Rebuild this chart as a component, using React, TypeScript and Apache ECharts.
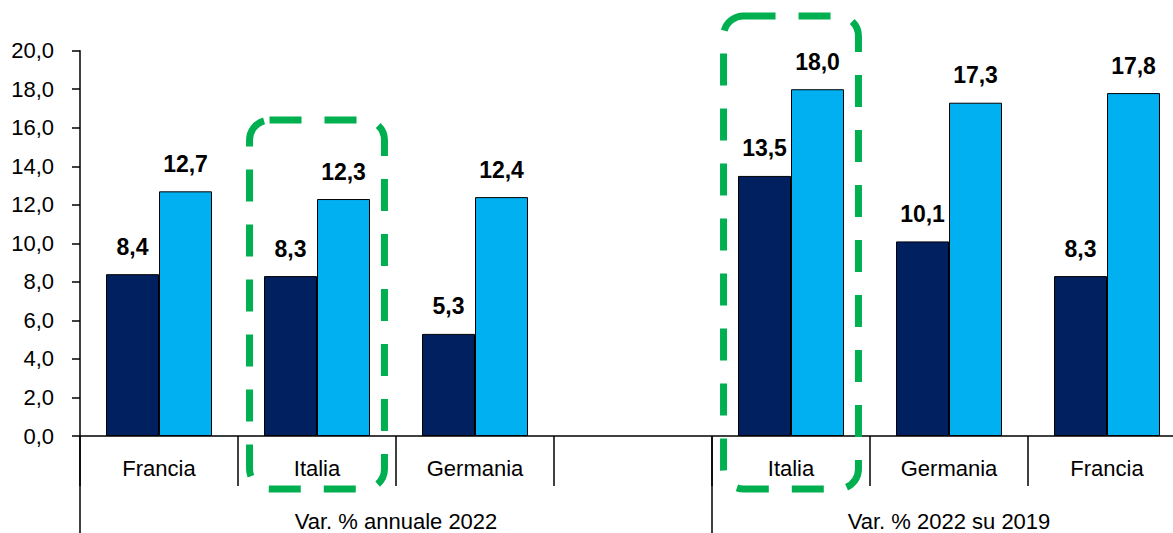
import React, { useEffect, useRef } from "react";
import * as echarts from "echarts";

// ---- data ----
const CATEGORIES = ["Francia", "Italia", "Germania", "", "Italia", "Germania", "Francia"];
const GROUP_LABELS = ["Var. % annuale 2022", "Var. % 2022 su 2019"];
const GROUP_SIZES = [4, 3]; // number of categories in each group
const DARK_VALUES = [8.4, 8.3, 5.3, null, 13.5, 10.1, 8.3];
const LIGHT_VALUES = [12.7, 12.3, 12.4, null, 18.0, 17.3, 17.8];
const Y_MIN = 0;
const Y_MAX = 20;
const Y_STEP = 2;
const HIGHLIGHT_INDEX = [1, 4];
const HIGHLIGHT_TOP = [16.4, 21.8];

const AXIS_FONT = "'Liberation Sans', Arial, sans-serif";
const LABEL_FONT = "'Liberation Sans', Arial, sans-serif";
const fmt = (v: number) => v.toFixed(1).replace(".", ",");

export default function App() {
  const ref = useRef<HTMLDivElement>(null);

  useEffect(() => {
    const chart = echarts.init(ref.current!, null, { renderer: "svg" });

    // second-level axis built on half-category slots
    const totalHalf = CATEGORIES.length * 2;
    const groupSlots: string[] = Array.from({ length: totalHalf + 1 }, () => "");
    const boundaries: number[] = [0];
    let acc = 0;
    GROUP_SIZES.forEach((n, gi) => {
      const start = acc * 2;
      acc += n;
      const end = acc * 2;
      groupSlots[(start + end) / 2] = GROUP_LABELS[gi];
      boundaries.push(end);
    });

    const labelStyle = {
      show: true,
      position: "top" as const,
      distance: 16,
      color: "#000",
      fontFamily: LABEL_FONT,
      fontWeight: "bold" as const,
      fontSize: 23,
      formatter: (p: any) => fmt(p.value),
    };

    chart.setOption({
      animation: false,
      backgroundColor: "#fff",
      grid: {
        left: 80,
        right: 0,
        top: 50.7,
        bottom: 97,
        containLabel: false,
        outerBoundsMode: "none",
      },
      xAxis: [
        {
          type: "category",
          data: CATEGORIES,
          position: "bottom",
          offset: 0,
          axisLine: { show: true, lineStyle: { color: "#000", width: 1.5 } },
          axisTick: { show: true, interval: 0, length: 50, lineStyle: { color: "#000", width: 1.5 } },
          axisLabel: {
            interval: 0,
            margin: 21,
            color: "#000",
            fontFamily: AXIS_FONT,
            fontSize: 22,
          },
        },
        {
          type: "category",
          data: groupSlots,
          boundaryGap: false,
          position: "bottom",
          offset: 0,
          axisLine: { show: false },
          axisTick: {
            show: true,
            interval: (i: number) => boundaries.includes(i),
            length: 110,
            lineStyle: { color: "#000", width: 1.5 },
          },
          axisLabel: {
            interval: (i: number, v: string) => v !== "",
            margin: 74,
            color: "#000",
            fontFamily: AXIS_FONT,
            fontSize: 22,
          },
        },
      ],
      yAxis: {
        type: "value",
        min: Y_MIN,
        max: Y_MAX,
        interval: Y_STEP,
        axisLine: { show: true, lineStyle: { color: "#000", width: 1.5 } },
        axisTick: { show: true, length: 8, lineStyle: { color: "#000", width: 1.5 } },
        splitLine: { show: false },
        axisLabel: {
          margin: 26,
          color: "#000",
          fontFamily: AXIS_FONT,
          fontSize: 22,
          formatter: (v: number) => fmt(v),
        },
      },
      series: [
        {
          type: "bar",
          data: DARK_VALUES,
          barWidth: 53,
          barGap: "0%",
          itemStyle: { color: "#002060", borderColor: "#000", borderWidth: 1 },
          label: labelStyle,
        },
        {
          type: "bar",
          data: LIGHT_VALUES,
          barWidth: 53,
          barGap: "0%",
          itemStyle: { color: "#00B0F0", borderColor: "#000", borderWidth: 1 },
          label: labelStyle,
        },
      ],
    });

    // highlight boxes placed through the axes
    const x0 = chart.convertToPixel({ xAxisIndex: 0 }, 0) as number;
    const x1 = chart.convertToPixel({ xAxisIndex: 0 }, 1) as number;
    const catW = x1 - x0;
    const yZero = chart.convertToPixel({ yAxisIndex: 0 }, 0) as number;
    const halfW = catW * 0.427;
    chart.setOption({
      graphic: HIGHLIGHT_INDEX.map((idx, k) => {
        const cx = chart.convertToPixel({ xAxisIndex: 0 }, idx) as number;
        const top = chart.convertToPixel({ yAxisIndex: 0 }, HIGHLIGHT_TOP[k]) as number;
        const bottom = yZero + 53;
        return {
          type: "rect",
          silent: true,
          z: 100,
          shape: { x: cx - halfW, y: top, width: halfW * 2, height: bottom - top, r: 20 },
          style: {
            fill: "none",
            stroke: "#00B050",
            lineWidth: 7,
            lineDash: [32, 23],
          },
        };
      }),
    });

    return () => chart.dispose();
  }, []);

  return (
    <div style={{ position: "fixed", left: 0, top: 0, width: 1173, height: 533, overflow: "hidden", background: "#fff" }}>
      <div ref={ref} style={{ width: 1186, height: 533 }} />
    </div>
  );
}
